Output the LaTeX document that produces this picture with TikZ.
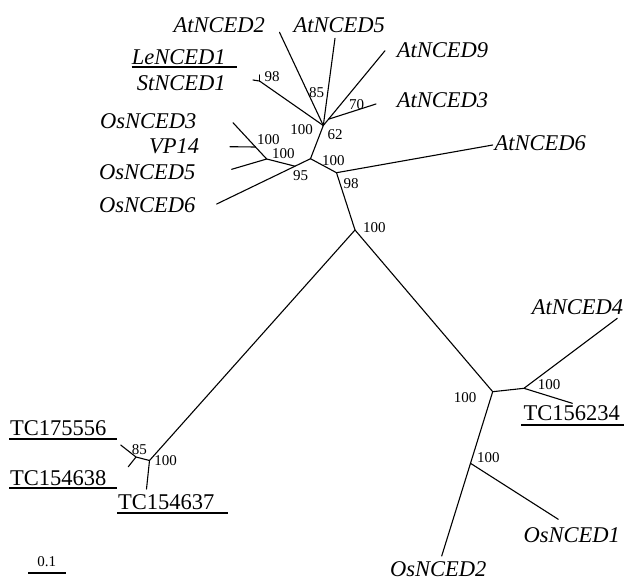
\documentclass[tikz,border=0pt]{standalone}
\usepackage{fontspec}
\setmainfont{Liberation Serif}
\begin{document}
\begin{tikzpicture}[x=1pt,y=-1pt,
  branch/.style={line width=1.1pt, line cap=round},
  uline/.style={line width=2pt},
  leaf/.style={font=\fontsize{22.5}{26}\selectfont\itshape, inner sep=0pt, anchor=west},
  tcleaf/.style={font=\fontsize{22.5}{26}\selectfont, inner sep=0pt, anchor=west},
  boot/.style={font=\fontsize{15}{17}\selectfont, inner sep=0pt}]
\useasboundingbox (0,0) rectangle (624,582);
% leaf ends
\coordinate (a2) at (279.5,32.3);
\coordinate (a5) at (335,38.3);
\coordinate (a9) at (385,50.7);
\coordinate (a3) at (376,104);
\coordinate (a6) at (492.7,145);
\coordinate (le) at (253,80);
\coordinate (st) at (259.5,75);
\coordinate (o3) at (233,122.7);
\coordinate (vp) at (230,146.7);
\coordinate (o5) at (231.7,169.3);
\coordinate (o6) at (216.7,204);
\coordinate (tc1) at (120.7,445);
\coordinate (tc2) at (128.3,466.7);
\coordinate (tc3) at (146.5,489);
\coordinate (a4) at (617.3,318.3);
\coordinate (tc4) at (572.3,403.3);
\coordinate (o1) at (558.3,519.3);
\coordinate (o2) at (441.7,556);
% internal nodes
\coordinate (A) at (323.3,125.5);
\coordinate (C) at (328.5,119.2);
\coordinate (N) at (259.5,81);
\coordinate (B) at (310.5,158.7);
\coordinate (E) at (295,166.2);
\coordinate (D) at (266.7,159);
\coordinate (F) at (255.5,147);
\coordinate (G) at (336.5,172.7);
\coordinate (H) at (355,230);
\coordinate (I) at (149.5,460.5);
\coordinate (K) at (136,457);
\coordinate (J) at (492.7,391.7);
\coordinate (L) at (524,388.3);
\coordinate (M) at (470.5,463.3);
% branches
\draw[branch] (A) -- (a2);
\draw[branch] (A) -- (a5);
\draw[branch] (A) -- (C) -- (a9);
\draw[branch] (C) -- (a3);
\draw[branch] (A) -- (N);
\draw[branch] (N) -- (le);
\draw[branch] (N) -- (st);
\draw[branch] (A) -- (B);
\draw[branch] (B) -- (E) -- (o6);
\draw[branch] (E) -- (D) -- (o5);
\draw[branch] (D) -- (F) -- (o3);
\draw[branch] (F) -- (vp);
\draw[branch] (B) -- (G) -- (a6);
\draw[branch] (G) -- (H);
\draw[branch] (H) -- (I) -- (K) -- (tc1);
\draw[branch] (K) -- (tc2);
\draw[branch] (I) -- (tc3);
\draw[branch] (H) -- (J) -- (L) -- (a4);
\draw[branch] (L) -- (tc4);
\draw[branch] (J) -- (M) -- (o2);
\draw[branch] (M) -- (o1);
% leaf labels
\node[leaf] (lAt2) at (173.5,25) {AtNCED2};
\node[leaf] (lAt5) at (293.5,25) {AtNCED5};
\node[leaf] (lAt9) at (396.7,50) {AtNCED9};
\node[leaf] (lAt3) at (396.7,100) {AtNCED3};
\node[leaf] (lAt6) at (494.3,143.3) {AtNCED6};
\node[leaf] (lLe) at (131.7,56.7) {LeNCED1};
\node[leaf] (lSt) at (136.7,83.3) {StNCED1};
\node[leaf] (lOs3) at (100,121) {OsNCED3};
\node[leaf] (lVP) at (149,146.7) {VP14};
\node[leaf] (lOs5) at (99,171.7) {OsNCED5};
\node[leaf] (lOs6) at (99,205) {OsNCED6};
\node[tcleaf] (lTC1) at (10,428) {TC175556};
\node[tcleaf] (lTC2) at (10,478) {TC154638};
\node[tcleaf] (lTC3) at (118,501.7) {TC154637};
\node[tcleaf] (lTC4) at (523.3,413.3) {TC156234};
\node[leaf] (lAt4) at (531.7,307.3) {AtNCED4};
\node[leaf] (lOs1) at (523.3,535) {OsNCED1};
\node[leaf] (lOs2) at (390,569.5) {OsNCED2};
% underlines
\draw[uline] (131.7,66.7) -- (237.3,66.7);
\draw[uline] (9.3,439.3) -- (116.7,439.3);
\draw[uline] (9.3,488.3) -- (117,488.3);
\draw[uline] (117,512.7) -- (228,512.7);
\draw[uline] (521,425) -- (624,425);
% bootstrap values
\node[boot] (b1) at (272,77) {98};
\node[boot] (b2) at (316.7,93) {85};
\node[boot] (b3) at (356.7,105) {70};
\node[boot] (b4) at (301.7,129.3) {100};
\node[boot] (b5) at (335,135) {62};
\node[boot] (b6) at (268.3,139.3) {100};
\node[boot] (b7) at (283.3,154) {100};
\node[boot] (b8) at (333.3,161) {100};
\node[boot] (b9) at (300.5,175.5) {95};
\node[boot] (b10) at (351,183.3) {98};
\node[boot] (b11) at (374.3,227.3) {100};
\node[boot] (b12) at (139.3,449.3) {85};
\node[boot] (b13) at (165.7,461) {100};
\node[boot] (b14) at (465,397.7) {100};
\node[boot] (b15) at (549,385) {100};
\node[boot] (b16) at (488.3,457.7) {100};
% scale bar
\node[boot] (scl) at (46.7,561.7) {0.1};
\draw[uline] (28.3,573.3) -- (65.7,573.3);
\end{tikzpicture}
\end{document}
